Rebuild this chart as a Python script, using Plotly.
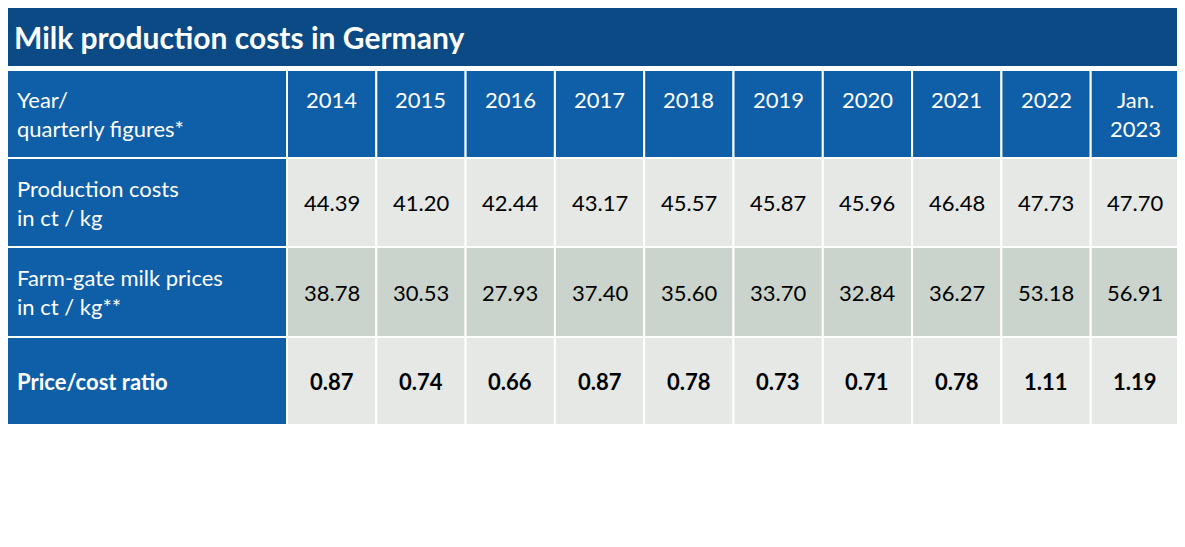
import plotly.graph_objects as go

title = "Milk production costs in Germany"
years = ["2014", "2015", "2016", "2017", "2018", "2019", "2020", "2021", "2022", "Jan.<br>2023"]
row_labels = ["Production costs<br>in ct / kg", "Farm-gate milk prices<br>in ct / kg**", "<b>Price/cost ratio</b>"]
costs = [44.39, 41.20, 42.44, 43.17, 45.57, 45.87, 45.96, 46.48, 47.73, 47.70]
prices = [38.78, 30.53, 27.93, 37.40, 35.60, 33.70, 32.84, 36.27, 53.18, 56.91]
ratio = [0.87, 0.74, 0.66, 0.87, 0.78, 0.73, 0.71, 0.78, 1.11, 1.19]
footnotes = [
    "*Provisional quarterly figures. All values excluding VAT. Extrapolation as from 2020 on basis of FADN 2020 (prov.) and Destatis. Before basis for calculations FADN 2010 to",
    "2019.",
    "**All milk prices for 4% fat and 3,4% protein, as of 2019 farm gate milk prices, previously prices delivered to dairy. Source: prices of conventional cow's milk. In: Statistical",
    "yearbook and Statistical monthly reports BMEL, different years, www.bmel-statistik.de, Ed. Bundesministerium für Ernährung und Landwirtschaft (Federal Ministry for Food",
    "and Agriculture, Germany)",
]

DARK = "#0c4a85"
BLUE = "#0f5ea8"
LIGHT = "#e5e8e5"
MID = "#cbd4cc"
FONT = "Lato"

x0, x1, first_w = 4, 1180, 283
col_w = (x1 - x0 - first_w) / len(years)
row_edges = [70, 158, 247, 337, 425]
row_fill = [BLUE, LIGHT, MID, LIGHT]
rows = [years,
        [f"{v:.2f}" for v in costs],
        [f"{v:.2f}" for v in prices],
        [f"<b>{v:.2f}</b>" for v in ratio]]
labels = ["Year/<br>quarterly figures*"] + row_labels

fig = go.Figure()
shapes, ann = [], []
shapes.append(dict(type="rect", x0=x0, x1=x1, y0=4, y1=66, fillcolor=DARK, line=dict(width=0)))
ann.append(dict(x=12, y=37, text=f"<b>{title}</b>", xanchor="left", yanchor="middle", showarrow=False,
                font=dict(family=FONT, size=30, color="white")))

for r in range(4):
    ya, yb = row_edges[r], row_edges[r + 1]
    ym = (ya + yb) / 2
    shapes.append(dict(type="rect", x0=x0, x1=x0 + first_w, y0=ya, y1=yb, fillcolor=BLUE,
                       line=dict(color="white", width=2)))
    ann.append(dict(x=x0 + 11, y=ym, text=labels[r], xanchor="left", yanchor="middle", showarrow=False,
                    align="left", font=dict(family=FONT, size=22, color="white")))
    for c, txt in enumerate(rows[r]):
        cx0 = x0 + first_w + c * col_w
        shapes.append(dict(type="rect", x0=cx0, x1=cx0 + col_w, y0=ya, y1=yb, fillcolor=row_fill[r],
                           line=dict(color="white", width=2)))
        ty = ym - 15 if (r == 0 and "<br>" not in txt) else ym
        ann.append(dict(x=cx0 + col_w / 2, y=ty, text=txt, xanchor="center", yanchor="middle",
                        showarrow=False, font=dict(family=FONT, size=22,
                                                   color="white" if r == 0 else "black")))

for i, line in enumerate(footnotes):
    ann.append(dict(x=4, y=448 + i * 19, text=line, xanchor="left", yanchor="middle", showarrow=False,
                    font=dict(family=FONT, size=15, color="black")))

fig.add_trace(go.Scatter(x=[600], y=[300], mode="markers", marker=dict(opacity=0), hoverinfo="skip"))
# page body has an 8px margin, so the figure is shrunk and the ranges shifted to compensate
fig.update_layout(width=1177, height=539, margin=dict(l=0, r=0, t=0, b=0),
                  plot_bgcolor="white", paper_bgcolor="white", showlegend=False,
                  shapes=shapes, annotations=ann,
                  xaxis=dict(range=[8, 1185], visible=False, fixedrange=True),
                  yaxis=dict(range=[547, 8], visible=False, fixedrange=True))
fig.write_html("out.html")
